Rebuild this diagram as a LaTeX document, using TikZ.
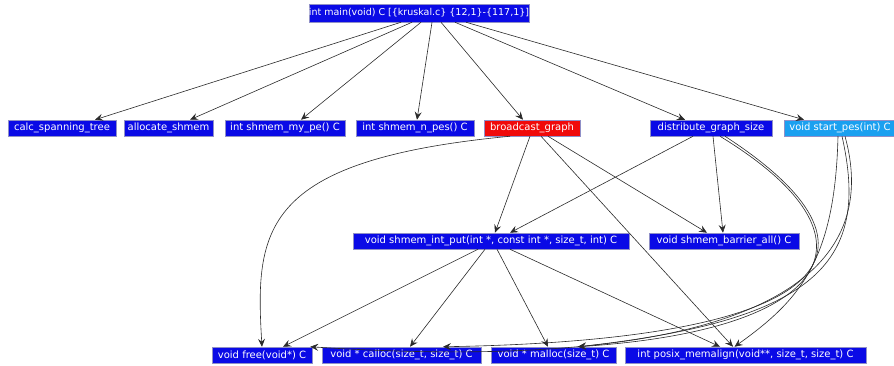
\documentclass[tikz,border=0pt]{standalone}
\usepackage{fontspec}
\setsansfont{DejaVu Sans}
\usetikzlibrary{arrows.meta}
\definecolor{cblue}{HTML}{0A0AE6}
\definecolor{cred}{HTML}{F00A0A}
\definecolor{ccyan}{HTML}{1AA0F0}
\definecolor{cedge}{HTML}{2A2A2A}
\definecolor{cframe}{HTML}{9090C8}
\tikzset{
  every picture/.style={font=\sffamily\fontsize{10}{12}\selectfont},
  box/.style={draw=cframe, line width=0.5pt, fill=#1, text=white, inner sep=0pt, minimum height=16pt},
  box/.default=cblue,
  arrow/.style={-{Stealth[length=8pt, width=7pt, inset=3pt]}, draw=cedge, line width=0.6pt},
}
\begin{document}
\begin{tikzpicture}[x=1pt, y=-1pt,
  fn/.style={box=cblue},
  hot/.style={box=cred},
  cold/.style={box=ccyan}]
  \useasboundingbox (0,0) rectangle (894,366);
  % root
  \node[fn, minimum width=216pt, minimum height=18pt, font=\sffamily\fontsize{9.5}{11}\selectfont] (main) at (419,13) {int main(void) C [\{kruskal.c\} \{12,1\}-\{117,1\}]};
  % callees of main
  \node[fn, minimum width=108pt] (calc) at (62,128) {calc\_spanning\_tree};
  \node[fn, minimum width=89pt] (alloc) at (168.5,128) {allocate\_shmem};
  \node[fn, minimum width=120pt] (mype) at (285,128) {int shmem\_my\_pe() C};
  \node[fn, minimum width=118pt] (npes) at (415,128) {int shmem\_n\_pes() C};
  \node[hot, minimum width=96pt] (bcast) at (532,128) {broadcast\_graph};
  \node[fn, minimum width=122pt] (dist) at (711,128) {distribute\_graph\_size};
  \node[cold, minimum width=112pt] (startpes) at (840,128) {void start\_pes(int) C};
  % second level
  \node[fn, minimum width=276pt] (intput) at (491,241) {void shmem\_int\_put(int *, const int *, size\_t, int) C};
  \node[fn, minimum width=150pt] (barrier) at (724,241) {void shmem\_barrier\_all() C};
  % leaves
  \node[fn, minimum width=100pt] (free) at (262,355) {void free(void*) C};
  \node[fn, minimum width=159pt] (calloc) at (401.5,355) {void * calloc(size\_t, size\_t) C};
  \node[fn, minimum width=125pt] (malloc) at (553.5,355) {void * malloc(size\_t) C};
  \node[fn, minimum width=241pt] (memalign) at (745.5,355) {int posix\_memalign(void**, size\_t, size\_t) C};
  % main
  \draw[arrow] ([xshift=-18]main.south) -- ([xshift=33]calc.north);
  \draw[arrow] ([xshift=-7]main.south) -- ([xshift=21.5]alloc.north);
  \draw[arrow] ([xshift=2]main.south) -- ([xshift=16]mype.north);
  \draw[arrow] ([xshift=13]main.south) -- ([xshift=2]npes.north);
  \draw[arrow] ([xshift=22]main.south) -- ([xshift=-9]bcast.north);
  \draw[arrow] ([xshift=36]main.south) -- ([xshift=-26]dist.north);
  \draw[arrow] ([xshift=47]main.south) -- ([xshift=-36]startpes.north);
  % broadcast_graph
  \draw[arrow] ([xshift=-22]bcast.south) .. controls (260,160) and (255,230) .. (free.north);
  \draw[arrow] ([xshift=-2]bcast.south) -- ([xshift=4]intput.north);
  \draw[arrow] ([xshift=16]bcast.south) -- ([xshift=-17]barrier.north);
  \draw[arrow] ([xshift=9]bcast.south) -- ([xshift=-12.5]memalign.north);
  % distribute_graph_size
  \draw[arrow] ([xshift=-18]dist.south) -- ([xshift=19]intput.north);
  \draw[arrow] ([xshift=2]dist.south) -- ([xshift=-1]barrier.north);
  \draw[arrow] ([xshift=9]dist.south) .. controls (890,240) and (830,330) .. ([xshift=24.5]malloc.north);
  \draw[arrow] ([xshift=14]dist.south) .. controls (900,250) and (840,340) .. ([xshift=41.5]calloc.north);
  % start_pes
  \draw[arrow] ([xshift=-2]startpes.south) .. controls (835,260) and (800,300) .. ([xshift=-11]memalign.north);
  \draw[arrow] ([xshift=2]startpes.south) .. controls (870,260) and (820,320) .. ([xshift=24.5]malloc.north);
  \draw[arrow] ([xshift=5]startpes.south) .. controls (890,300) and (700,372) .. ([xshift=-2]free.north east);
  % shmem_int_put
  \draw[arrow] ([xshift=-13]intput.south) -- ([xshift=21]free.north);
  \draw[arrow] ([xshift=-6]intput.south) -- ([xshift=8.5]calloc.north);
  \draw[arrow] ([xshift=6]intput.south) -- ([xshift=-5.5]malloc.north);
  \draw[arrow] ([xshift=19]intput.south) -- ([xshift=-25.5]memalign.north);
\end{tikzpicture}
\end{document}
